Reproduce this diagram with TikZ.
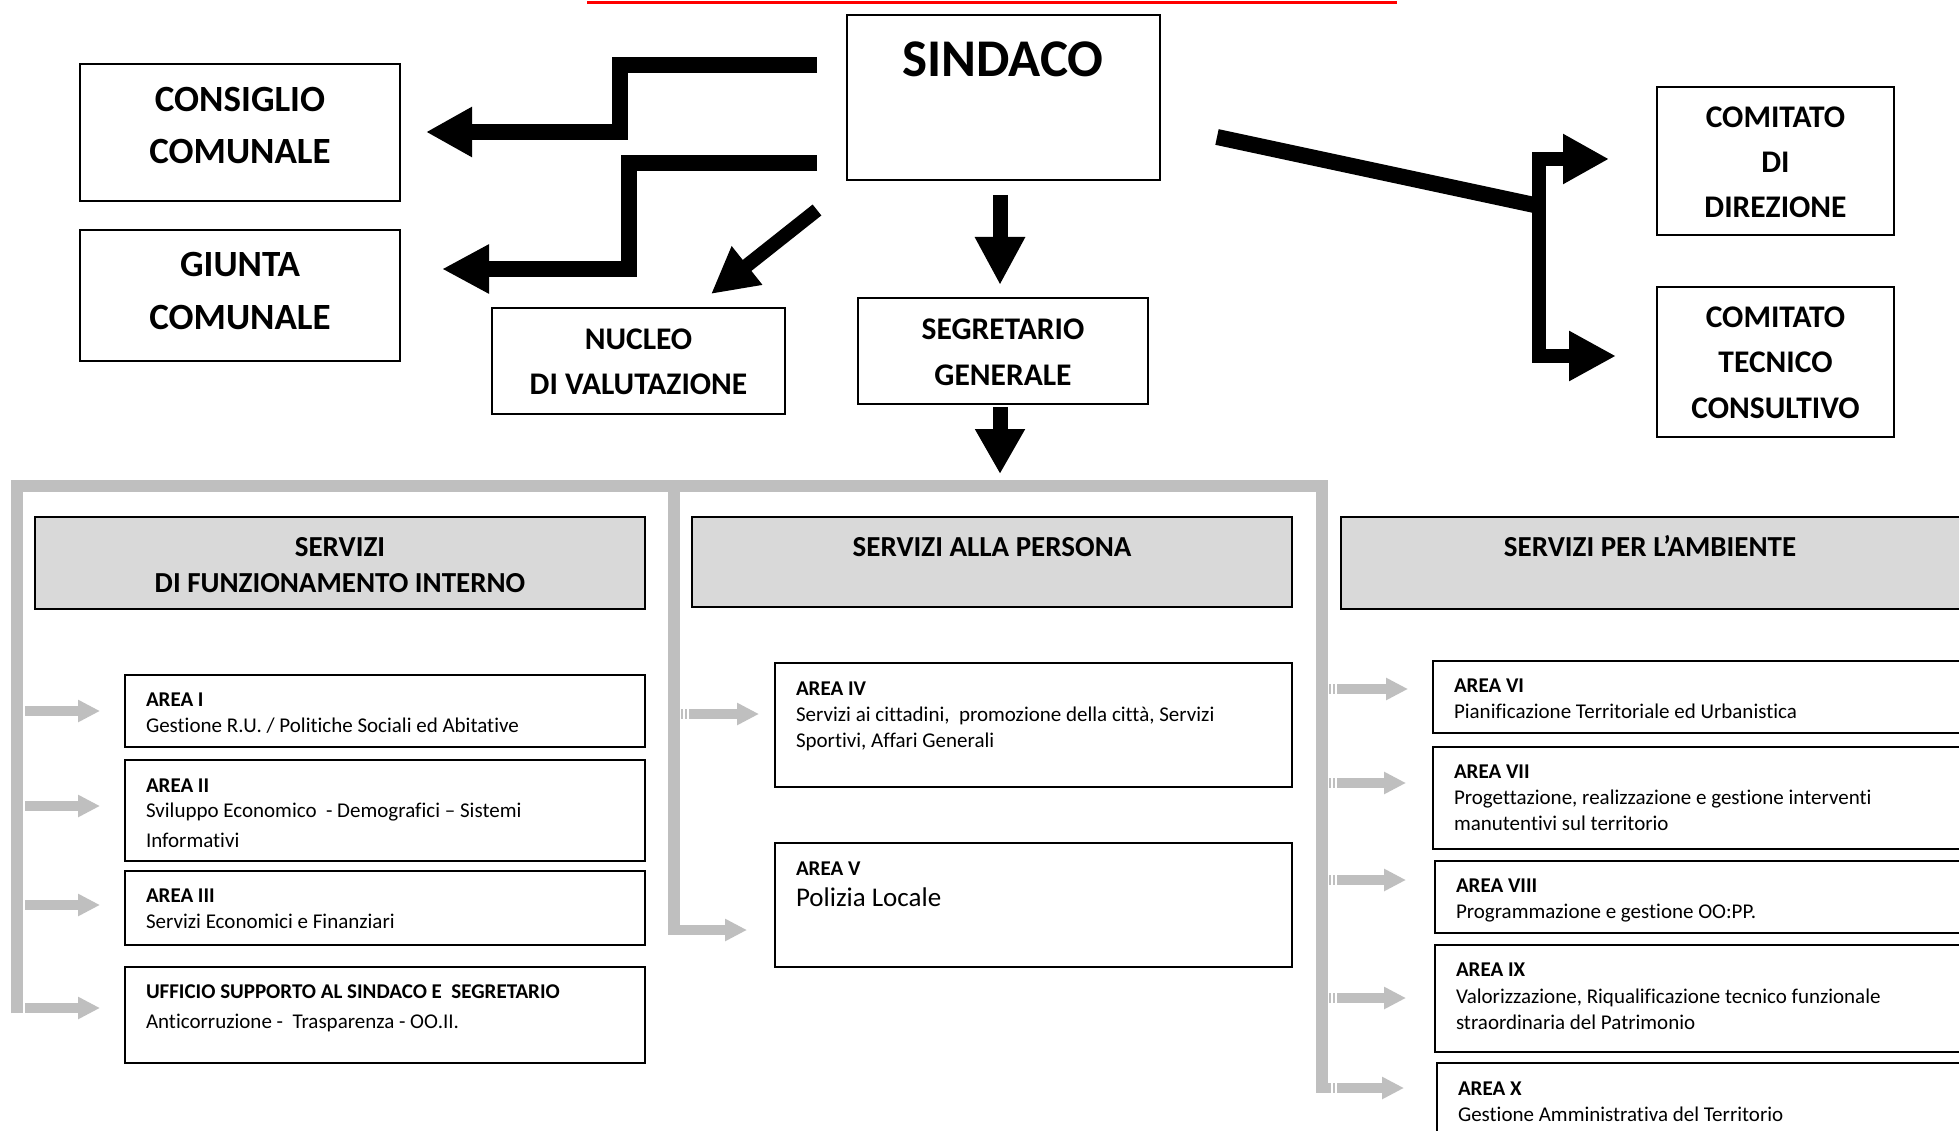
\documentclass[tikz,border=0pt]{standalone}
\usepackage{fontspec}
\setmainfont{Carlito}[Ligatures=NoCommon]
\usetikzlibrary{arrows.meta}
\definecolor{gframe}{HTML}{BFBFBF}
\definecolor{hdrfill}{HTML}{D9D9D9}
\newcommand{\fSind}{\bfseries\fontsize{53pt}{60pt}\selectfont}
\newcommand{\fBig}{\bfseries\fontsize{37pt}{42pt}\selectfont}
\newcommand{\fMid}{\bfseries\fontsize{31.5pt}{36pt}\selectfont}
\newcommand{\fHdr}{\bfseries\fontsize{29pt}{33pt}\selectfont}
\newcommand{\fBody}{\fontsize{21pt}{25pt}\selectfont}
\newcommand{\fBodyB}{\bfseries\fontsize{21pt}{25pt}\selectfont}
\newcommand{\fPol}{\fontsize{27pt}{31pt}\selectfont}
\begin{document}
\begin{tikzpicture}[x=1pt,y=-1pt,
  box/.style={draw=black, line width=2pt, inner sep=0pt, outer sep=0pt, anchor=north west},
  hdr/.style={box, fill=hdrfill},
  lbl/.style={inner sep=0pt, outer sep=0pt, anchor=base},
  lbw/.style={inner sep=0pt, outer sep=0pt, anchor=base west},
  blk/.style={draw=black, line width=15pt, line join=miter},
  gline/.style={draw=gframe, line width=12pt, line join=miter},
  garrow/.style={draw=gframe, line width=10pt, -{Triangle[length=22pt,width=21pt]}},
  stripe/.style={draw=white, line width=1.3pt},
]
\useasboundingbox (0,0) rectangle (1959,1131);
\clip (0,0) rectangle (1959,1131);
\fill[white] (0,0) rectangle (1959,1131);

% red rule
\coordinate (r1) at (587,2.5);
\coordinate (r2) at (1397,2.5);
\draw[red, line width=3.5pt] (r1) -- (r2);

% ---------------- top boxes
\node[box, minimum width=313pt, minimum height=165pt] (sindaco) at (847,15) {};
\node[box, minimum width=320pt, minimum height=137pt] (consiglio) at (80,64) {};
\node[box, minimum width=320pt, minimum height=131pt] (giunta) at (80,230) {};
\node[box, minimum width=293pt, minimum height=106pt] (nucleo) at (492,308) {};
\node[box, minimum width=290pt, minimum height=106pt] (segr) at (858,298) {};
\node[box, minimum width=237pt, minimum height=148pt] (comdir) at (1657,87) {};
\node[box, minimum width=237pt, minimum height=150pt] (comtec) at (1657,287) {};

\node[lbl, font=\fSind] (tsind) at (1003,77) {SINDACO};
\node[lbl, font=\fBig] (tcons1) at (240,112) {CONSIGLIO};
\node[lbl, font=\fBig] (tcons2) at (240,164) {COMUNALE};
\node[lbl, font=\fBig] (tgiu1) at (240,277) {GIUNTA};
\node[lbl, font=\fBig] (tgiu2) at (240,330) {COMUNALE};
\node[lbl, font=\fMid] (tnuc1) at (638.5,350) {NUCLEO};
\node[lbl, font=\fMid] (tnuc2) at (638.5,395) {DI VALUTAZIONE};
\node[lbl, font=\fMid] (tseg1) at (1003,340) {SEGRETARIO};
\node[lbl, font=\fMid] (tseg2) at (1003,385) {GENERALE};
\node[lbl, font=\fMid] (tcd1) at (1775.5,128) {COMITATO};
\node[lbl, font=\fMid] (tcd2) at (1775.5,173) {DI};
\node[lbl, font=\fMid] (tcd3) at (1775.5,218) {DIREZIONE};
\node[lbl, font=\fMid] (tct1) at (1775.5,328) {COMITATO};
\node[lbl, font=\fMid] (tct2) at (1775.5,373) {TECNICO};
\node[lbl, font=\fMid] (tct3) at (1775.5,418) {CONSULTIVO};

% ---------------- black arrows
\coordinate (a1s) at (817,65);   \coordinate (a1e) at (426,132);
\coordinate (a2s) at (817,163);  \coordinate (a2e) at (442,269);
\coordinate (a3s) at (817,210);  \coordinate (a3e) at (711,294);
\coordinate (a4s) at (1000,195); \coordinate (a4e) at (1000,285);
\coordinate (a5s) at (1000,407); \coordinate (a5e) at (1000,474);
\coordinate (a6s) at (1217,137); \coordinate (a6m) at (1539,206);
\coordinate (a6t) at (1609,159); \coordinate (a6b) at (1616,356);

\draw[blk, line width=16pt, -{Triangle[length=46pt,width=47pt]}] (a1s) -- (620,65) -- (620,132) -- (a1e);
\draw[blk, line width=16pt, -{Triangle[length=47pt,width=46pt]}] (a2s) -- (629,163) -- (629,269) -- (a2e);
\draw[blk, line width=14pt, -{Triangle[length=46pt,width=46pt]}] (a3s) -- (a3e);
\draw[blk, -{Triangle[length=48pt,width=47pt]}] (a4s) -- (a4e);
\draw[blk, -{Triangle[length=45pt,width=47pt]}] (a5s) -- (a5e);
\draw[blk, line width=16pt] (a6s) -- (a6m);
\draw[blk, line width=14.5pt, {Triangle[length=46pt,width=47pt]}-{Triangle[length=47pt,width=47pt]}] (a6t) -- (1539,159) -- (1539,356) -- (a6b);

% ---------------- grey frame
\draw[gline] (17,1013) -- (17,486) -- (1322,486) -- (1322,1093);
\draw[gline] (674,486) -- (674,935);

% ---------------- headers
\node[hdr, minimum width=610pt, minimum height=92pt] (h1) at (35,517) {};
\node[hdr, minimum width=600pt, minimum height=90pt] (h2) at (692,517) {};
\node[hdr, minimum width=630pt, minimum height=92pt] (h3) at (1341,517) {};
\node[lbl, font=\fHdr] (th1a) at (340,556) {SERVIZI};
\node[lbl, font=\fHdr] (th1b) at (340,592) {DI FUNZIONAMENTO INTERNO};
\node[lbl, font=\fHdr] (th2) at (992,556) {SERVIZI ALLA PERSONA};
\node[lbl, font=\fHdr] (th3) at (1650,556) {SERVIZI PER L’AMBIENTE};

% ---------------- area boxes
\node[box, minimum width=520pt, minimum height=72pt] (ar1) at (125,675) {};
\node[box, minimum width=520pt, minimum height=101pt] (ar2) at (125,760) {};
\node[box, minimum width=520pt, minimum height=74pt] (ar3) at (125,871) {};
\node[box, minimum width=520pt, minimum height=96pt] (uff) at (125,967) {};
\node[box, minimum width=517pt, minimum height=124pt] (ar4) at (775,663) {};
\node[box, minimum width=517pt, minimum height=124pt] (ar5) at (775,843) {};
\node[box, minimum width=560pt, minimum height=72pt] (ar6) at (1433,661) {};
\node[box, minimum width=560pt, minimum height=102pt] (ar7) at (1433,747) {};
\node[box, minimum width=560pt, minimum height=72pt] (ar8) at (1435,861) {};
\node[box, minimum width=560pt, minimum height=107pt] (ar9) at (1435,945) {};
\node[box, minimum width=560pt, minimum height=100pt] (ar10) at (1437,1063) {};

\node[lbw, font=\fBodyB] (t1a) at (146,706.5) {AREA I};
\node[lbw, font=\fBody] (t1b) at (146,732.6) {Gestione R.U. / Politiche Sociali ed Abitative};
\node[lbw, font=\fBodyB] (t2a) at (146,792) {AREA II};
\node[lbw, font=\fBody] (t2b) at (146,817) {Sviluppo Economico\ \ - Demografici – Sistemi};
\node[lbw, font=\fBody] (t2c) at (146,847) {Informativi};
\node[lbw, font=\fBodyB] (t3a) at (146,902.6) {AREA III};
\node[lbw, font=\fBody] (t3b) at (146,928.7) {Servizi Economici e Finanziari};
\node[lbw, font=\fBodyB] (tua) at (146,998) {UFFICIO SUPPORTO AL SINDACO E\ \ SEGRETARIO};
\node[lbw, font=\fBody] (tub) at (146,1028) {Anticorruzione -\ \ Trasparenza - OO.II.};

\node[lbw, font=\fBodyB] (t4a) at (796,695) {AREA IV};
\node[lbw, font=\fBody] (t4b) at (796,721) {Servizi ai cittadini,\ \ promozione della città, Servizi};
\node[lbw, font=\fBody] (t4c) at (796,747) {Sportivi, Affari Generali};
\node[lbw, font=\fBodyB] (t5a) at (796,875) {AREA V};
\node[lbw, font=\fPol] (t5b) at (796,906.5) {Polizia Locale};

\node[lbw, font=\fBodyB] (t6a) at (1454,692.6) {AREA VI};
\node[lbw, font=\fBody] (t6b) at (1454,718) {Pianificazione Territoriale ed Urbanistica};
\node[lbw, font=\fBodyB] (t7a) at (1454,778.7) {AREA VII};
\node[lbw, font=\fBody] (t7b) at (1454,804.8) {Progettazione, realizzazione e gestione interventi};
\node[lbw, font=\fBody] (t7c) at (1454,830.4) {manutentivi sul territorio};
\node[lbw, font=\fBodyB] (t8a) at (1456,892) {AREA VIII};
\node[lbw, font=\fBody] (t8b) at (1456,918.7) {Programmazione e gestione OO:PP.};
\node[lbw, font=\fBodyB] (t9a) at (1456,976.5) {AREA IX};
\node[lbw, font=\fBody] (t9b) at (1456,1003) {Valorizzazione, Riqualificazione tecnico funzionale};
\node[lbw, font=\fBody] (t9c) at (1456,1029) {straordinaria del Patrimonio};
\node[lbw, font=\fBodyB] (t10a) at (1458,1095) {AREA X};
\node[lbw, font=\fBody] (t10b) at (1458,1121.7) {Gestione Amministrativa del Territorio};

% ---------------- grey arrows
\draw[garrow] (25,711) -- ([xshift=-25pt]ar1.west |- 0,711);
\draw[garrow] (25,806) -- ([xshift=-25pt]ar2.west |- 0,806);
\draw[garrow] (25,905) -- ([xshift=-25pt]ar3.west |- 0,905);
\draw[garrow] (25,1008) -- ([xshift=-25pt]uff.west |- 0,1008);

\draw[garrow] (681,714) -- ([xshift=-16pt]ar4.west |- 0,714);
\draw[garrow] (679,930) -- ([xshift=-28pt]ar5.west |- 0,930);

\draw[garrow] (1329,689) -- ([xshift=-25pt]ar6.west |- 0,689);
\draw[garrow] (1329,783) -- ([xshift=-27pt]ar7.west |- 0,783);
\draw[garrow] (1329,880) -- ([xshift=-29pt]ar8.west |- 0,880);
\draw[garrow] (1329,998) -- ([xshift=-29pt]ar9.west |- 0,998);
\draw[garrow] (1326,1088) -- ([xshift=-33pt]ar10.west |- 0,1088);

\foreach \yy in {689,783,880,998,1088} {
  \draw[stripe] (1332,\yy-6) -- (1332,\yy+6);
  \draw[stripe] (1336,\yy-6) -- (1336,\yy+6);
}
\draw[stripe] (684,708) -- (684,720);
\draw[stripe] (688,708) -- (688,720);
\end{tikzpicture}
\end{document}
